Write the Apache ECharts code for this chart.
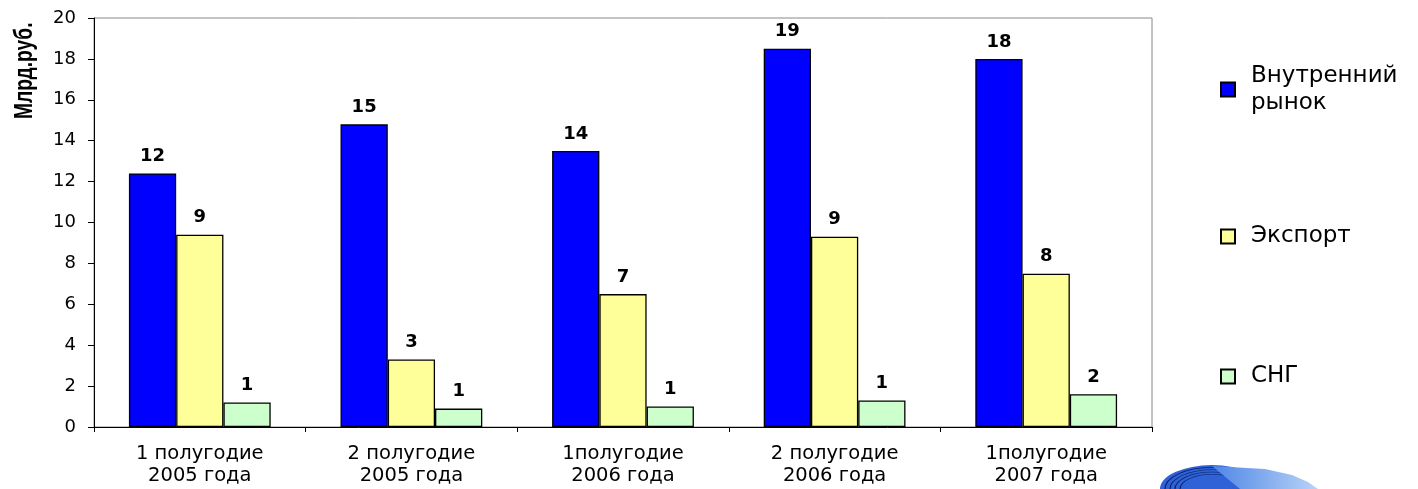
<!DOCTYPE html>
<html><head><meta charset="utf-8">
<script src="https://cdn.jsdelivr.net/npm/echarts@6/dist/echarts.min.js"></script>
<style>html,body{margin:0;padding:0;background:#fff}#c{width:1418px;height:489px}</style>
</head><body><div id="c"></div>
<script>
const categories = ['1 полугодие\n2005 года', '2 полугодие\n2005 года', '1полугодие\n2006 года', '2 полугодие\n2006 года', '1полугодие\n2007 года'];
const domestic = [12.4, 14.8, 13.5, 18.5, 18.0];
const exportVals = [9.4, 3.3, 6.5, 9.3, 7.5];
const cis = [1.2, 0.9, 1.0, 1.3, 1.6];
const seriesNames = ['Внутренний рынок', 'Экспорт', 'СНГ'];
const seriesColors = ['#0000FF', '#FFFF99', '#CCFFCC'];
const yTitle = 'Млрд.руб.';
const yMin = 0, yMax = 20, yStep = 2;

const FONT = "'DejaVu Sans', sans-serif";
const chart = echarts.init(document.getElementById('c'), null, {renderer: 'canvas'});

function mkSeries(name, data, color) {
  return {
    name: name, type: 'bar', data: data,
    barGap: '0%', barCategoryGap: '33%',
    itemStyle: {color: color, borderColor: '#000', borderWidth: 1.3},
    label: {show: true, position: 'top', distance: 8, color: '#000',
      fontFamily: FONT, fontWeight: 'bold', fontSize: 18,
      formatter: p => String(Math.round(p.value))}
  };
}

function mkLegend(name, top, multi) {
  return {
    orient: 'vertical', left: 1220, top: top, padding: 0,
    itemWidth: 14, itemHeight: 14, icon: 'rect',
    data: [name],
    formatter: n => n.replace(' ', '\n'),
    textStyle: {fontFamily: FONT, fontSize: 23, color: '#000', lineHeight: 27,
      padding: multi ? [27, 0, 0, 11] : [0, 0, 0, 11]},
    selectedMode: false
  };
}

const option = {
  animation: false,
  backgroundColor: '#fff',
  grid: {left: 94, right: 266, top: 18, bottom: 62, show: true,
    borderColor: '#888', borderWidth: 1, backgroundColor: 'transparent'},
  legend: [
    mkLegend(seriesNames[0], 49, true),
    mkLegend(seriesNames[1], 223, false),
    mkLegend(seriesNames[2], 363, false)
  ],
  xAxis: {
    type: 'category', data: categories,
    axisLine: {lineStyle: {color: '#000', width: 1}},
    axisTick: {show: true, length: 5, lineStyle: {color: '#000'}},
    axisLabel: {interval: 0, margin: 16, color: '#000', fontFamily: FONT, fontSize: 19.5, lineHeight: 22}
  },
  yAxis: {
    type: 'value', min: yMin, max: yMax, interval: yStep,
    axisLine: {show: true, lineStyle: {color: '#000', width: 1}},
    axisTick: {show: true, length: 6, lineStyle: {color: '#000'}},
    splitLine: {show: false},
    axisLabel: {margin: 18, color: '#000', fontFamily: FONT, fontSize: 18}
  },
  series: [
    mkSeries(seriesNames[0], domestic, seriesColors[0]),
    mkSeries(seriesNames[1], exportVals, seriesColors[1]),
    mkSeries(seriesNames[2], cis, seriesColors[2])
  ],
  graphic: [
    {type: 'text', x: 38, y: 119, rotation: Math.PI / 2, scaleX: 0.77,
      style: {text: yTitle, font: "bold 25px 'Liberation Sans', sans-serif",
        fill: '#000', textAlign: 'left', textVerticalAlign: 'bottom'}},
    {type: 'polygon', z: 1,
      shape: {points: [[1212, 466], [1265, 469], [1292, 475], [1308, 482], [1318, 489], [1240, 489]]},
      style: {fill: new echarts.graphic.LinearGradient(0, 0, 1, 0, [
        {offset: 0, color: '#4f86e6'}, {offset: 1, color: '#b9d3f7'}])}},
    {type: 'group', x: 1212, y: 489, scaleY: 0.46, z: 2, children: [
      {type: 'sector', shape: {cx: 0, cy: 0, r: 52, r0: 0, startAngle: Math.PI, endAngle: 2 * Math.PI},
        style: {fill: '#2f62d6'}},
      {type: 'arc', shape: {cx: 0, cy: 0, r: 47, startAngle: Math.PI, endAngle: 2 * Math.PI}, style: {stroke: '#0b1f6b', lineWidth: 1.2, fill: null}},
      {type: 'arc', shape: {cx: 0, cy: 0, r: 42, startAngle: Math.PI, endAngle: 2 * Math.PI}, style: {stroke: '#0b1f6b', lineWidth: 1.2, fill: null}},
      {type: 'arc', shape: {cx: 0, cy: 0, r: 37, startAngle: Math.PI, endAngle: 2 * Math.PI}, style: {stroke: '#0b1f6b', lineWidth: 1.2, fill: null}},
      {type: 'arc', shape: {cx: 0, cy: 0, r: 32, startAngle: Math.PI, endAngle: 2 * Math.PI}, style: {stroke: '#0b1f6b', lineWidth: 1.2, fill: null}}
    ]}
  ]
};
chart.setOption(option);
</script>
</body></html>
